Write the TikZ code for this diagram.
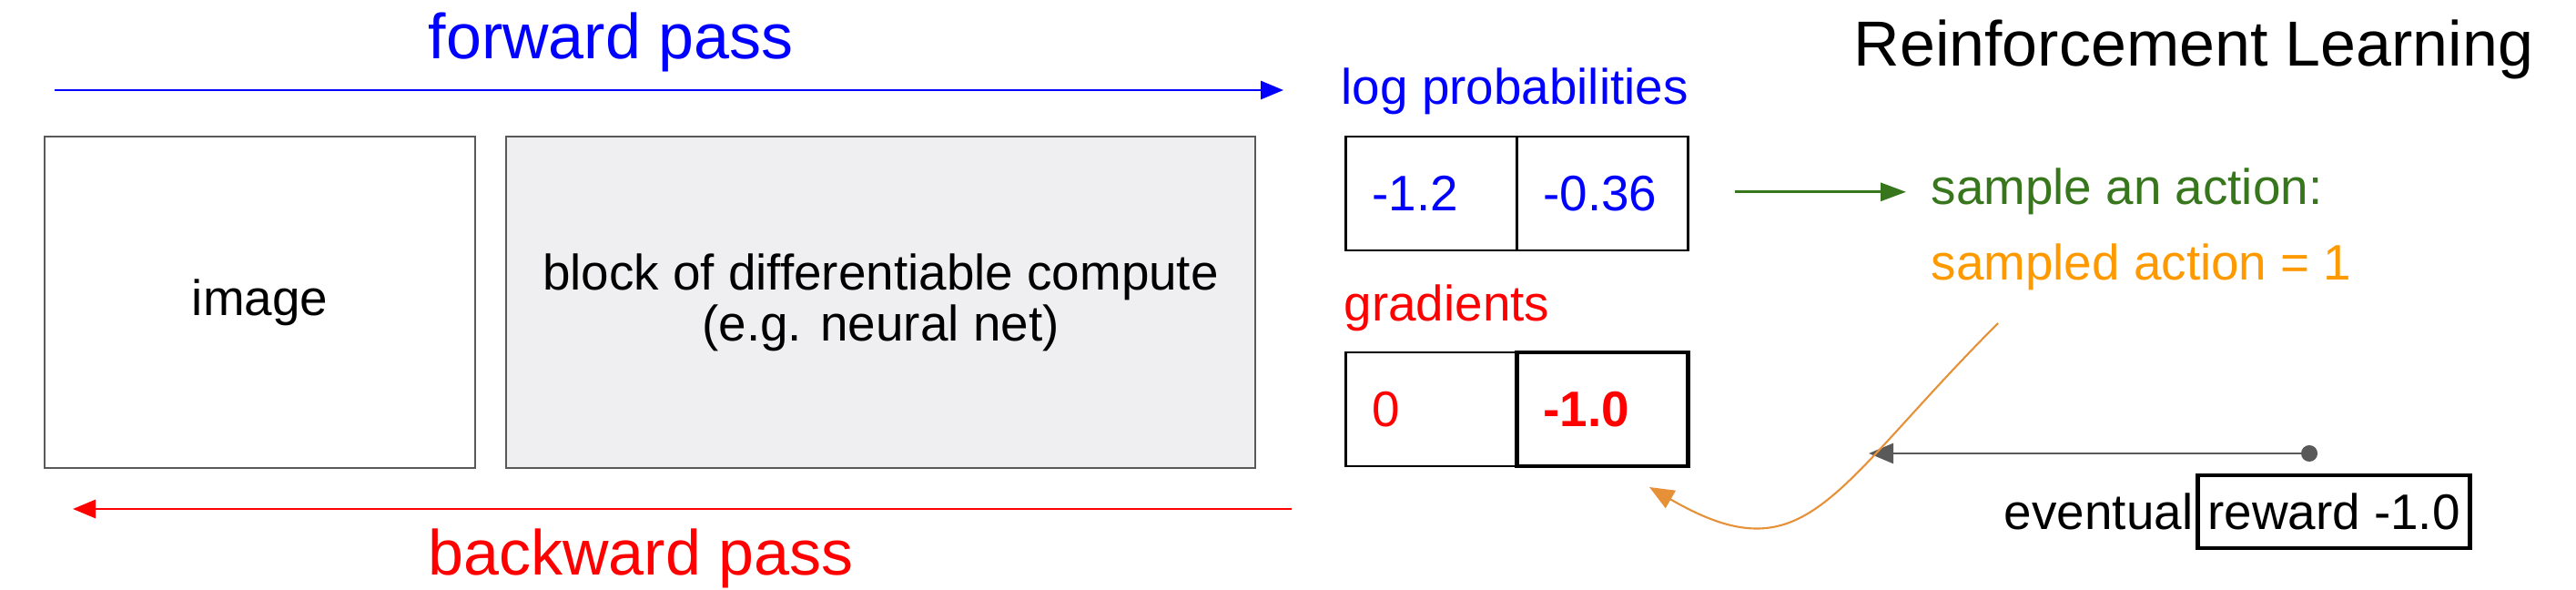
\documentclass[tikz,border=0pt]{standalone}
\usepackage{fontspec}
\setmainfont{Liberation Sans}
\usetikzlibrary{positioning,arrows.meta}
\definecolor{fwdblue}{RGB}{0,0,255}
\definecolor{bwdred}{RGB}{255,0,0}
\definecolor{samplegreen}{RGB}{56,118,29}
\definecolor{actionorange}{RGB}{255,153,0}
\definecolor{curveorange}{RGB}{230,145,56}
\definecolor{rewardgray}{RGB}{89,89,89}
\definecolor{blockgray}{RGB}{239,239,241}

\tikzset{
    txt/.style={inner sep=0pt, font=\fontsize{15.6}{16}\selectfont},
    bigtxt/.style={inner sep=0pt, font=\fontsize{19.9}{22}\selectfont},
    netbox/.style={draw=black!65, line width=0.8pt, minimum height=3.64cm, align=center, font=\fontsize{15.6}{15.9}\selectfont},
    cell/.style={draw, line width=0.6pt, outer sep=0pt, text width=1.30cm, inner xsep=0.29cm, minimum height=1.25cm, align=left, font=\fontsize{15.6}{16}\selectfont},
    passarrow/.style={line width=0.8pt, -{Triangle[length=0.25cm,width=0.20cm]}},
}

\begin{document}
\begin{tikzpicture}
    \useasboundingbox (0,0) rectangle (28.30,-6.48);

    % Network boxes
    \node[netbox, minimum width=4.73cm] (img) at (2.855,-3.32) {image};
    \node[netbox, minimum width=8.23cm, fill=blockgray] (blk) at (9.675,-3.32) {block of differentiable compute\\(e.g. neural net)};

    % Forward and backward pass
    \coordinate (fwdstart) at (0.60,-0.99);
    \coordinate (fwdend) at (14.10,-0.99);
    \draw[passarrow, color=fwdblue] (fwdstart) -- (fwdend);
    \node[bigtxt, anchor=base west, text=fwdblue] (fwdlabel) at (4.70,-0.65) {forward pass};
    \coordinate (bwdstart) at (14.19,-5.59);
    \coordinate (bwdend) at (0.80,-5.59);
    \draw[passarrow, color=bwdred] (bwdstart) -- (bwdend);
    \node[bigtxt, anchor=base west, text=bwdred] (bwdlabel) at (4.70,-6.32) {backward pass};

    % Log probabilities
    \node[txt, anchor=base west, text=fwdblue] (lplabel) at (14.73,-1.15) {log probabilities};
    \node[cell, text=fwdblue] (lp1) at (15.725,-2.125) {-1.2};
    \node[cell, text=fwdblue, right=0pt of lp1] (lp2) {-0.36};

    % Gradients
    \node[txt, anchor=base west, text=bwdred] (grlabel) at (14.76,-3.53) {gradients};
    \node[cell, text=bwdred, below=1.12cm of lp1] (gr1) {0};
    \node[cell, text=bwdred, line width=1.4pt, right=0pt of gr1, font=\fontsize{15.6}{16}\selectfont\bfseries] (gr2) {-1.0};

    % Sampling
    \node[bigtxt, anchor=base west] (title) at (20.36,-0.73) {Reinforcement Learning};
    \node[txt, anchor=base west, text=samplegreen] (sample) at (21.21,-2.25) {sample an action:};
    \node[txt, anchor=base west, text=actionorange] (sampled) at (21.21,-3.08) {sampled action = 1};
    \draw[line width=0.8pt, samplegreen, -{Triangle[length=0.28cm,width=0.20cm]}] ([xshift=0.51cm]lp2.east |- sample.west) -- ([xshift=-0.27cm]sample.west);

    % Reward
    \node[txt, draw, line width=1.4pt, inner xsep=0.11cm, minimum height=0.80cm] (reward) at (25.64,-5.62) {reward -1.0};
    \node[txt, anchor=base east] (eventual) at ([xshift=-0.02cm]reward.base west) {eventual};
    \coordinate (rwddot) at (25.46,-4.98);
    \coordinate (rwdend) at (20.53,-4.98);
    \draw[line width=0.75pt, rewardgray, {Circle[length=0.18cm]}-{Triangle[length=0.27cm,width=0.22cm]}] (rwddot) -- (rwdend);

    % Back to the gradient
    \coordinate (curvestart) at (21.95,-3.55);
    \coordinate (curveend) at (18.12,-5.35);
    \draw[line width=0.6pt, curveorange, -{Triangle[length=0.27cm,width=0.22cm]}] (curvestart) .. controls (20.11,-5.39) and (19.85,-6.35) .. (curveend);
\end{tikzpicture}
\end{document}
